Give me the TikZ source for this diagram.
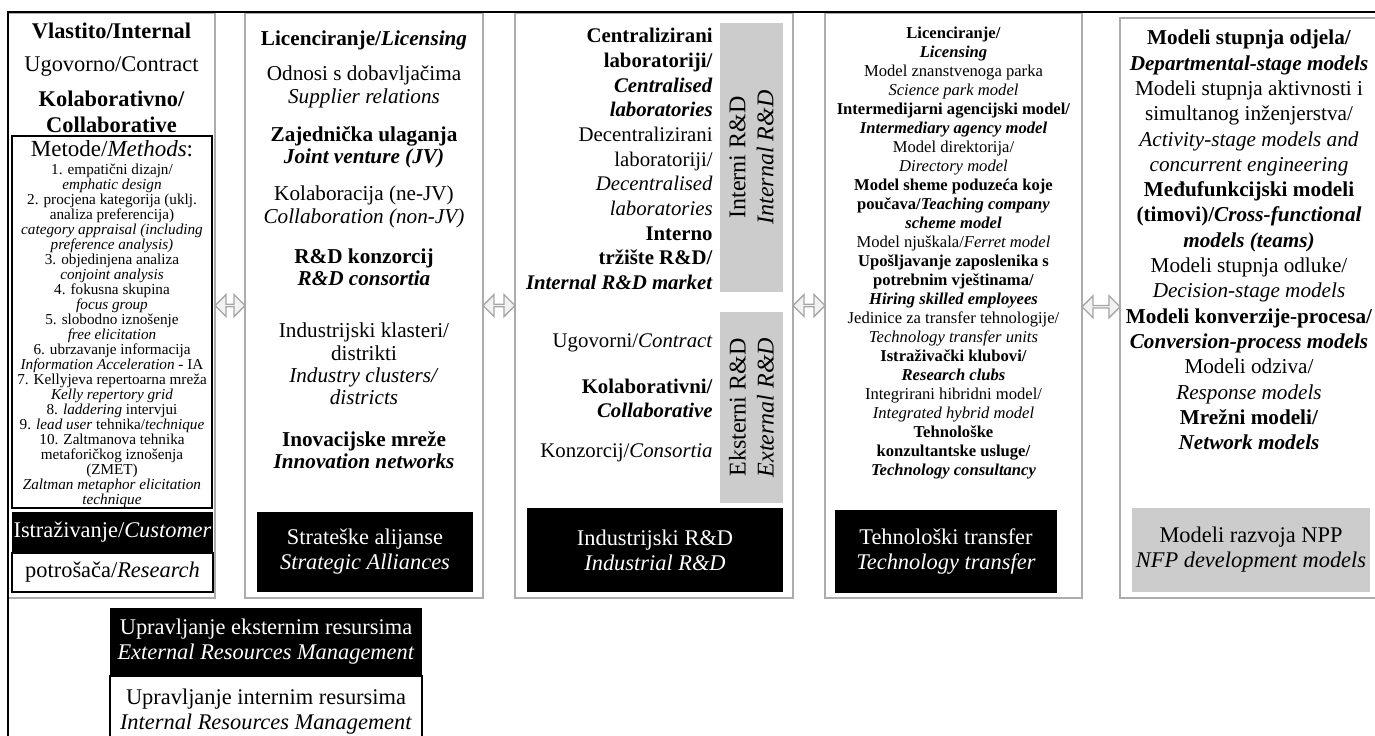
\documentclass[tikz,border=0pt]{standalone}
\usepackage{fontspec}
\setmainfont{Liberation Serif}
\usetikzlibrary{shapes.arrows,calc}

\newcommand{\bfit}[1]{\textbf{\textit{#1}}}
\newcommand{\tightlines}{\lineskiplimit=-5pt\relax}

\tikzset{
  colbox/.style={draw=gray!65, line width=0.7pt, inner sep=0pt},
  darkbox/.style={fill=black, text=white, align=center, inner sep=0pt,
    font=\fontsize{11.2}{12.5}\selectfont},
  lightbox/.style={draw, line width=0.7pt, align=center, inner sep=0pt,
    font=\fontsize{11.2}{12.5}\selectfont},
  greybar/.style={fill=gray!40, inner sep=0pt, align=center},
  twoway/.style={double arrow, draw=gray!70, fill=gray!10, line width=0.7pt,
    inner sep=0pt, minimum width=11pt, double arrow head extend=2.8pt},
  bigtxt/.style={align=center, inner sep=0pt, font=\fontsize{11.2}{13}\selectfont},
  midtxt/.style={align=center, inner sep=0pt, font=\fontsize{10.6}{11.2}\selectfont},
  rtxt/.style={align=right, inner sep=0pt, anchor=east, font=\fontsize{10.4}{12.35}\selectfont},
  smalltxt/.style={align=center, inner sep=0pt, font=\fontsize{8.3}{9.5}\selectfont},
}

\begin{document}
\begin{tikzpicture}[x=0.5pt,y=-0.5pt]
\useasboundingbox (0,0) rectangle (1375,735);

% columns
\node[colbox, minimum width=103.5pt, minimum height=292.5pt] (col1) at (111.5,305.5) {};
\node[colbox, minimum width=119pt, minimum height=292.5pt] (col2) at (364,305.5) {};
\node[colbox, minimum width=139pt, minimum height=292.5pt] (col3) at (654,305.5) {};
\node[colbox, minimum width=128.5pt, minimum height=292.5pt] (col4) at (953.5,305.5) {};
\node[colbox, minimum width=131pt, minimum height=290pt] (col5) at (1251,308) {};

% outer frame
\draw[line width=1pt] (8,740) -- (8,12) -- (1380,12);

% arrows between columns
\node[twoway, minimum height=15pt] (arr1) at ($(col1.east)!.5!(col2.west)$) {};
\node[twoway, minimum height=16pt] (arr2) at ($(col2.east)!.5!(col3.west)$) {};
\node[twoway, minimum height=16pt] (arr3) at ($(col3.east)!.5!(col4.west)$) {};
\node[twoway, minimum height=19pt] (arr4) at ($(col4.east)!.5!(col5.west)$) {};

% column 1
\node[bigtxt, font=\bfseries\fontsize{11.2}{13}\selectfont] (own) at (111.5,31) {Vlastito/Internal};
\node[bigtxt] (contract) at (111.5,66) {Ugovorno/Contract};
\node[bigtxt, font=\bfseries\fontsize{11.2}{13}\selectfont] (collab) at (111.5,112) {Kolaborativno/\\Collaborative};
\node[draw, line width=0.7pt, minimum width=100pt, minimum height=186pt, inner sep=0pt] (methbox) at (112,322) {};
\node[inner sep=0pt, font=\fontsize{11.5}{13}\selectfont] (methhead) at (112,149) {Metode/\textit{Methods}:};
\node[align=center, inner sep=0pt, anchor=north, font=\fontsize{7.6}{7.5}\selectfont\tightlines] (methlist) at (112,164)
  {1. empatični dizajn/\\\textit{emphatic design}\\
   2. procjena kategorija (uklj.\\analiza preferencija)\\
   \textit{category appraisal (including}\\\textit{preference analysis)}\\
   3. objedinjena analiza\\\textit{conjoint analysis}\\
   4. fokusna skupina\\\textit{focus group}\\
   5. slobodno iznošenje\\\textit{free elicitation}\\
   6. ubrzavanje informacija\\\textit{Information Acceleration} - IA\\
   7. Kellyjeva repertoarna mreža\\\textit{Kelly repertory grid}\\
   8. \textit{laddering} intervjui\\
   9. \textit{lead user} tehnika/\textit{technique}\\
   10. Zaltmanova tehnika\\metaforičkog iznošenja\\(ZMET)\\
   \textit{Zaltman metaphor elicitation}\\\textit{technique}};
\node[darkbox, minimum width=100.5pt, minimum height=20.5pt] (custa) at (112.5,532.5) {Istraživanje/\textit{Customer}};
\node[lightbox, minimum width=100.5pt, minimum height=19.5pt] (custb) at (112.5,572.5) {potrošača/\textit{Research}};

% column 2
\node[midtxt] (lic) at (364,40) {\textbf{Licenciranje/\textit{Licensing}}};
\node[midtxt] (supp) at (364,87) {Odnosi s dobavljačima\\\textit{Supplier relations}};
\node[midtxt] (jv) at (364,147) {\textbf{Zajednička ulaganja}\\\bfit{Joint venture (JV)}};
\node[midtxt] (nonjv) at (364,207) {Kolaboracija (ne-JV)\\\textit{Collaboration (non-JV)}};
\node[midtxt] (cons) at (364,267) {\textbf{R\&D konzorcij}\\\bfit{R\&D consortia}};
\node[midtxt] (clus) at (364,364) {Industrijski klasteri/\\distrikti\\\textit{Industry clusters/}\\\textit{districts}};
\node[midtxt] (innet) at (364,450) {\textbf{Inovacijske mreže}\\\bfit{Innovation networks}};
\node[darkbox, minimum width=108pt, minimum height=40pt] (alli) at (365,552) {Strateške alijanse\\\textit{Strategic Alliances}};

% column 3
\node[rtxt] (inrd) at (713,159)
  {\textbf{Centralizirani}\\\textbf{laboratoriji/}\\\bfit{Centralised}\\\bfit{laboratories}\\
   Decentralizirani\\laboratoriji/\\\textit{Decentralised}\\\textit{laboratories}\\
   \textbf{Interno}\\\textbf{tržište R\&D/}\\\bfit{Internal R\&D market}};
\node[greybar, rotate=90, minimum width=134.5pt, minimum height=31.5pt, font=\fontsize{12}{14}\selectfont] (barin) at (751.5,157.5) {Interni R\&D\\\textit{Internal R\&D}};
\node[rtxt] (contr) at (713,343) {Ugovorni/\textit{Contract}};
\node[rtxt] (kolab) at (713,398.5) {\textbf{Kolaborativni/}\\\bfit{Collaborative}};
\node[rtxt] (konz) at (713,453) {Konzorcij/\textit{Consortia}};
\node[greybar, rotate=90, minimum width=95.5pt, minimum height=31.5pt, font=\fontsize{12}{14}\selectfont] (barex) at (751.5,407.5) {Eksterni R\&D\\\textit{External R\&D}};
\node[darkbox, minimum width=128pt, minimum height=42pt] (indrd) at (655,550) {Industrijski R\&D\\\textit{Industrial R\&D}};

% column 4
\node[smalltxt] (tt) at (953.5,253)
  {\textbf{Licenciranje/}\\\bfit{Licensing}\\
   Model znanstvenoga parka\\\textit{Science park model}\\
   \textbf{Intermedijarni agencijski model/}\\\bfit{Intermediary agency model}\\
   Model direktorija/\\\textit{Directory model}\\
   \textbf{Model sheme poduzeća koje}\\\textbf{poučava/\textit{Teaching company}}\\\bfit{scheme model}\\
   Model njuškala/\textit{Ferret model}\\
   \textbf{Upošljavanje zaposlenika s}\\\textbf{potrebnim vještinama/}\\\bfit{Hiring skilled employees}\\
   Jedinice za transfer tehnologije/\\\textit{Technology transfer units}\\
   \textbf{Istraživački klubovi/}\\\bfit{Research clubs}\\
   Integrirani hibridni model/\\\textit{Integrated hybrid model}\\
   \textbf{Tehnološke}\\\textbf{konzultantske usluge/}\\\bfit{Technology consultancy}};
\node[darkbox, minimum width=111pt, minimum height=41.5pt] (techtr) at (946,551.5) {Tehnološki transfer\\\textit{Technology transfer}};

% column 5
\node[align=center, inner sep=0pt, font=\fontsize{10.6}{12.65}\selectfont] (nfp) at (1249,240)
  {\textbf{Modeli stupnja odjela/}\\\bfit{Departmental-stage models}\\
   Modeli stupnja aktivnosti i\\simultanog inženjerstva/\\
   \textit{Activity-stage models and}\\\textit{concurrent engineering}\\
   \textbf{Međufunkcijski modeli}\\\textbf{(timovi)/\textit{Cross-functional}}\\\bfit{models (teams)}\\
   Modeli stupnja odluke/\\\textit{Decision-stage models}\\
   \textbf{Modeli konverzije-procesa/}\\\bfit{Conversion-process models}\\
   Modeli odziva/\\\textit{Response models}\\
   \textbf{Mrežni modeli/}\\\bfit{Network models}};
\node[greybar, minimum width=119pt, minimum height=42pt, font=\fontsize{11.2}{12.5}\selectfont] (npp) at (1251,550) {Modeli razvoja NPP\\\textit{NFP development models}};

% resource management
\node[darkbox, minimum width=156pt, minimum height=33.5pt] (extres) at (266,641.5) {Upravljanje eksternim resursima\\\textit{External Resources Management}};
\node[lightbox, minimum width=156pt, minimum height=35pt, anchor=north] (intres) at (extres.south) {Upravljanje internim resursima\\\textit{Internal Resources Management}};
\end{tikzpicture}
\end{document}
